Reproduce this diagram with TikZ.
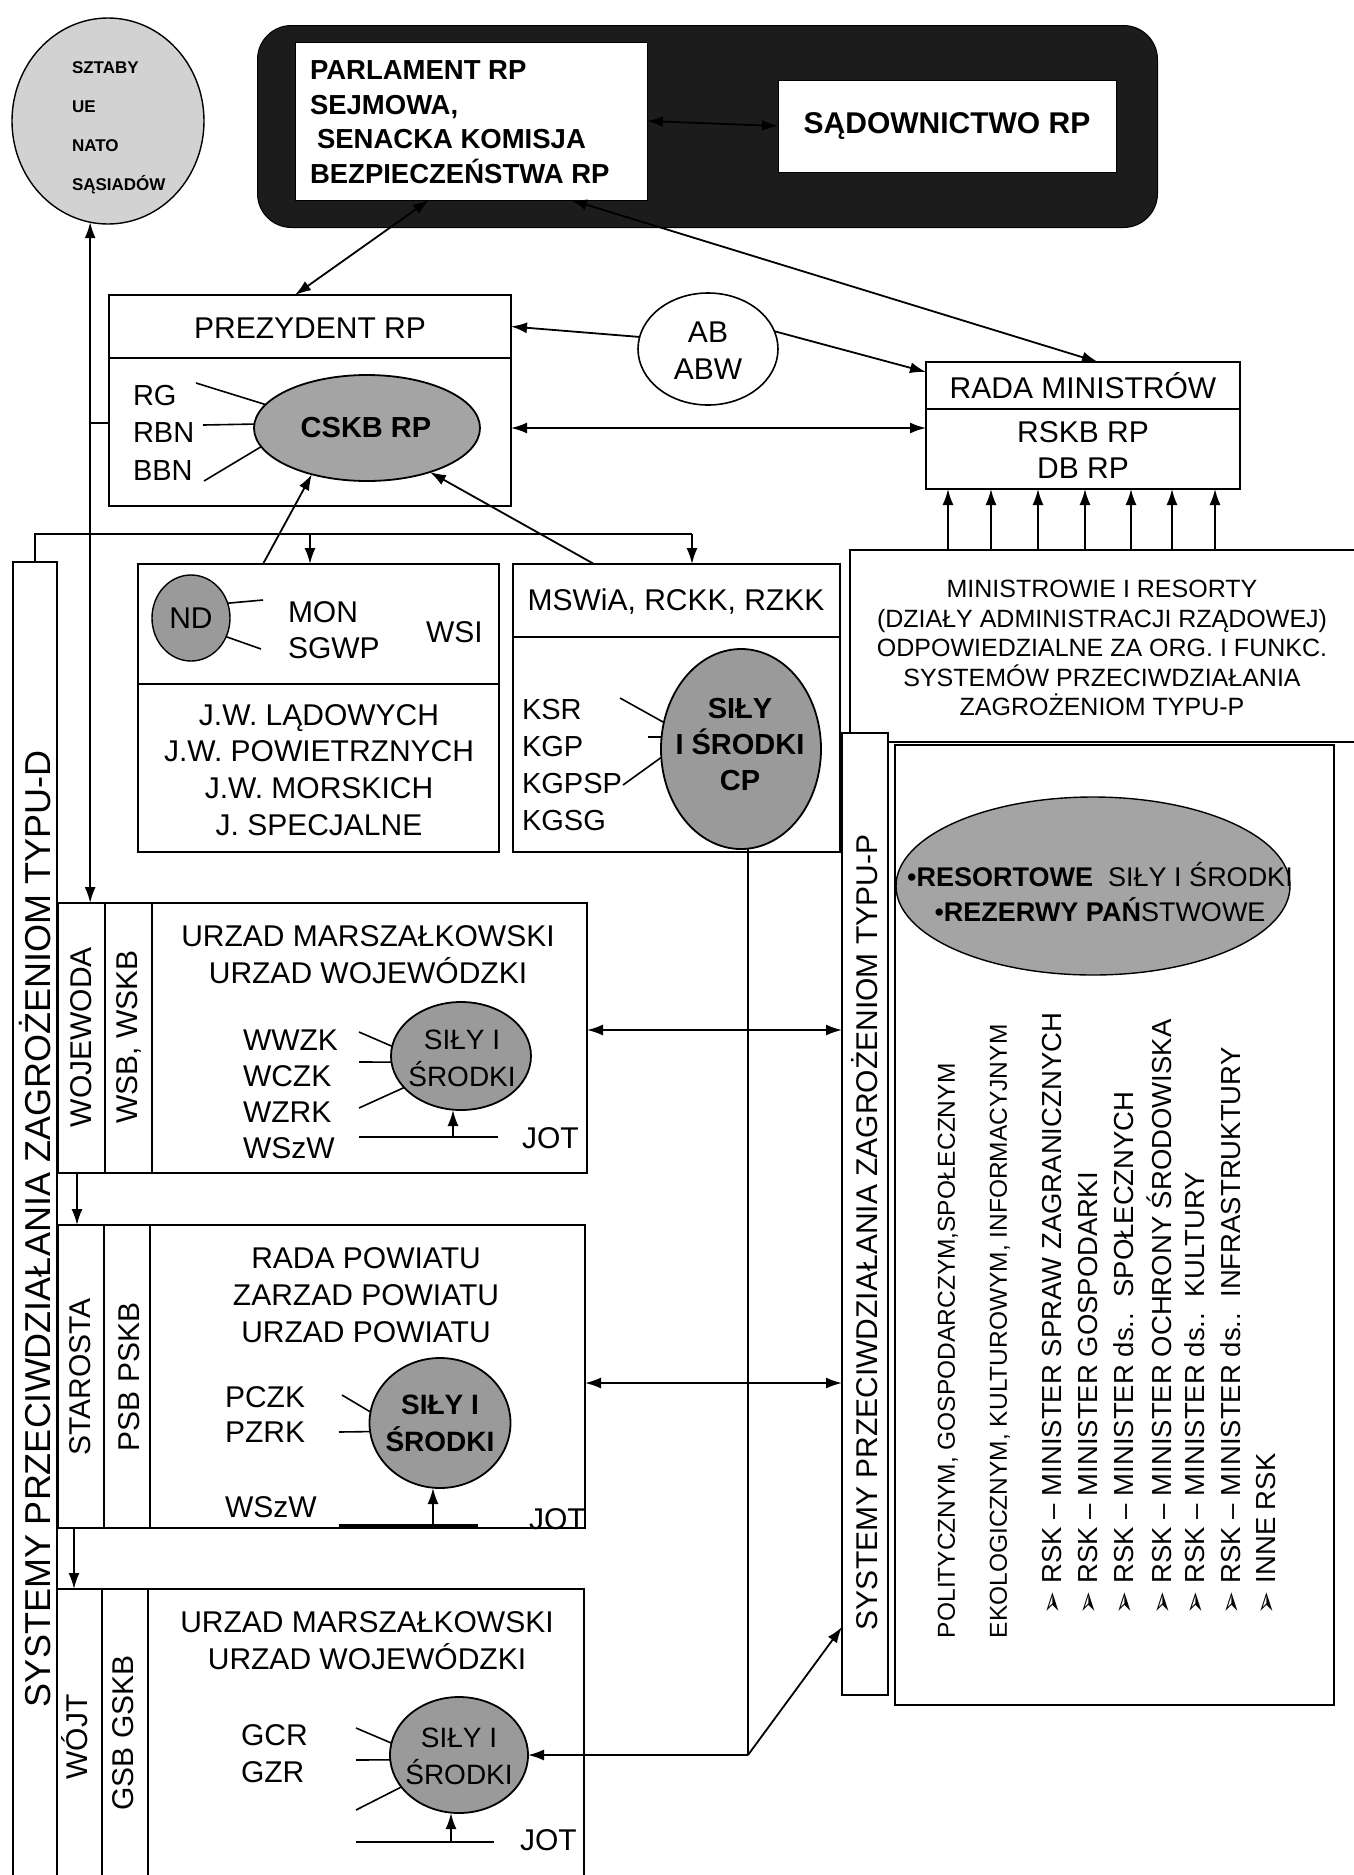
\documentclass[tikz,border=0pt]{standalone}
\usepackage{fontspec}
\setmainfont{Liberation Sans}
\newfontfamily\dejavu{DejaVu Sans}
\usetikzlibrary{shapes.geometric,arrows.meta,calc}
\definecolor{darkfill}{HTML}{1C1C1C}
\definecolor{gA}{HTML}{A4A4A4}
\definecolor{gB}{HTML}{9A9A9A}
\definecolor{gL}{HTML}{D2D2D2}
\begin{document}
\begin{tikzpicture}[x=1pt,y=-1pt]
\tikzset{
  bx/.style={draw, line width=2.2pt, fill=white, inner sep=0pt, outer sep=0pt, anchor=north west},
  ell/.style={ellipse, draw, line width=1.8pt, inner sep=0pt, outer sep=0pt},
  t/.style={inner sep=0pt, outer sep=0pt, align=center},
  arr/.style={line width=1.8pt, -{Latex[length=16pt,width=11pt]}},
  darr/.style={line width=1.8pt, {Latex[length=16pt,width=11pt]}-{Latex[length=16pt,width=11pt]}},
  ln/.style={line width=1.6pt},
  fsA/.style={font=\fontsize{30}{37}\selectfont},
  fsB/.style={font=\fontsize{27.5}{34.5}\selectfont\bfseries},
  fsC/.style={font=\fontsize{30}{36}\selectfont\bfseries},
  fsS/.style={font=\fontsize{17}{39}\selectfont\bfseries},
  fsE/.style={font=\fontsize{29}{36}\selectfont\bfseries},
  fsM/.style={font=\fontsize{25}{29.5}\selectfont},
  fsR/.style={font=\fontsize{27}{35}\selectfont},
  fsVa/.style={font=\fontsize{24.5}{30}\selectfont},
  fsVb/.style={font=\fontsize{27.5}{33}\selectfont},
  fsP/.style={font=\fontsize{30}{36}\selectfont},
  fsD/.style={font=\fontsize{36}{44}\selectfont},
  fsSI/.style={font=\fontsize{28}{37}\selectfont},
}
\useasboundingbox (0,0) rectangle (1353,1875);
\fill[white] (0,0) rectangle (1353,1875);

% ---------------- top ----------------
\node[anchor=north west, minimum width=900pt, minimum height=202pt, rounded corners=34pt,
      fill=darkfill, draw=black, line width=1pt, inner sep=0pt] (sejm) at (257,25) {};
\node[bx, line width=1pt, minimum width=352pt, minimum height=158pt] (parl) at (295,42) {};
\node[bx, line width=1pt, minimum width=338pt, minimum height=92pt] (sad) at (778,80) {};
\node[t, fsB, align=left, anchor=west] (parltxt) at (310,122)
  {PARLAMENT RP\\SEJMOWA,\\\hspace*{7pt}SENACKA KOMISJA\\BEZPIECZEŃSTWA RP};
\node[t, fsC] (sadtxt) at (947,126) {SĄDOWNICTWO RP};

\node[ell, fill=gL, line width=1.4pt, minimum width=192pt, minimum height=206pt] (sztaby) at (108,121) {};
\node[t, fsS, align=left, anchor=west] (sztabytxt) at (72,127.5) {SZTABY\\UE\\NATO\\SĄSIADÓW};

% ---------------- president ----------------
\node[bx, minimum width=402pt, minimum height=63pt] (prezT) at (109,295) {};
\node[bx, minimum width=402pt, minimum height=148pt] (prezB) at (109,358) {};
\node[t, fsA] (preztxt) at (310,328) {PREZYDENT RP};
\node[t, fsA, align=left, anchor=west, font=\fontsize{29}{37.5}\selectfont] (rgtxt) at (133,432.5) {RG\\RBN\\BBN};
\node[ell, fill=gA, minimum width=226pt, minimum height=106pt] (cskb) at (367,428) {};
\node[t, fsE] (cskbtxt) at (366,428) {CSKB RP};
\coordinate (rgA) at (196,383);
\coordinate (rgB) at (203,425);
\coordinate (rgC) at (204,481);
\draw[ln] (rgA) -- (cskb.167);
\draw[ln] (rgB) -- (cskb.178);
\draw[ln] (rgC) -- (cskb.190);

% AB
\node[ell, line width=1.6pt, fill=white, minimum width=140pt, minimum height=112pt] (ab) at (708,349) {};
\node[t, fsA] (abtxt) at (708,351) {AB\\ABW};

% Rada ministrow
\node[bx, minimum width=314pt, minimum height=47pt] (radaT) at (926,362) {};
\node[bx, minimum width=314pt, minimum height=80pt] (radaB) at (926,409) {};
\node[t, fsA] (radatxt) at (1083,386) {RADA MINISTRÓW};
\node[t, fsA, font=\fontsize{30}{36}\selectfont] (rskbtxt) at (1083,450) {RSKB RP\\DB RP};

% Ministrowie
\node[bx, minimum width=512pt, minimum height=192pt] (minbox) at (850,550) {};
\node[t, fsM] (mintxt) at (1102,648) {MINISTROWIE I RESORTY\\(DZIAŁY ADMINISTRACJI RZĄDOWEJ)\\ODPOWIEDZIALNE ZA ORG. I FUNKC.\\SYSTEMÓW PRZECIWDZIAŁANIA\\ZAGROŻENIOM TYPU-P};

% ---------------- ND box ----------------
\node[bx, minimum width=361pt, minimum height=120pt] (ndT) at (138,564) {};
\node[bx, minimum width=361pt, minimum height=168pt] (ndB) at (138,684) {};
\node[ell, fill=gB, line width=1.4pt, minimum width=78pt, minimum height=86pt] (ndell) at (191,618) {};
\node[t, fsA] (ndtxt) at (191,618) {ND};
\node[t, fsA, anchor=west] (montxt) at (288,612) {MON};
\node[t, fsA, anchor=west] (sgwptxt) at (288,648) {SGWP};
\node[t, fsA, anchor=west] (wsitxt) at (426,632) {WSI};
\coordinate (ndA) at (263,600);
\coordinate (ndB2) at (261,649);
\draw[ln] (ndell.22) -- (ndA);
\draw[ln] (ndell.-28) -- (ndB2);
\node[t, fsA, font=\fontsize{30}{36.7}\selectfont] (jwtxt) at (319,770) {J.W. LĄDOWYCH\\J.W. POWIETRZNYCH\\J.W. MORSKICH\\J. SPECJALNE};

% ---------------- MSWiA box ----------------
\node[bx, minimum width=327pt, minimum height=73pt] (mswT) at (513,564) {};
\node[bx, minimum width=327pt, minimum height=215pt] (mswB) at (513,637) {};
\node[t, fsA] (mswtxt) at (676,602) {MSWiA, RCKK, RZKK};
\node[t, align=left, anchor=west, font=\fontsize{29}{36.7}\selectfont] (ksrtxt) at (522,765) {KSR\\KGP\\KGPSP\\KGSG};
\node[ell, fill=gB, minimum width=160pt, minimum height=200pt] (cp) at (741,749) {};
\node[t, fsE] (cptxt) at (740,745) {SIŁY\\I ŚRODKI\\CP};
\coordinate (ksrA) at (620,698);
\coordinate (kgpA) at (648,737);
\coordinate (kgpB) at (662,737);
\coordinate (kgpsA) at (623,785);
\draw[ln] (ksrA) -- (cp.161);
\draw[ln] (kgpA) -- (kgpB);
\draw[ln] (kgpsA) -- (cp.186);

% ---------------- TYPU-D column ----------------
\node[bx, minimum width=44pt, minimum height=1340pt] (colD) at (13,562) {};
\node[t, fsD, rotate=90, anchor=west] (typDtxt) at (35,1707) {SYSTEMY PRZECIWDZIAŁANIA ZAGROŻENIOM TYPU-D};

% ---------------- TYPU-P column & big box ----------------
\node[bx, minimum width=46pt, minimum height=962pt] (colP) at (842,733) {};
\node[bx, minimum width=439pt, minimum height=960pt] (bigbox) at (895,745) {};
\node[t, fsP, rotate=90, anchor=west] (typPtxt) at (865,1630) {SYSTEMY PRZECIWDZIAŁANIA ZAGROŻENIOM TYPU-P};
\node[ell, fill=gA, line width=1.4pt, minimum width=394pt, minimum height=178pt] (resell) at (1093,886) {};
\node[t, fsR] (restxt) at (1100,892) {\textbullet\textbf{RESORTOWE}\ \ SIŁY I ŚRODKI\\\textbullet\textbf{REZERWY PAŃ}STWOWE};
\node[t, fsVa, rotate=90, anchor=west] (v1) at (948,1638) {POLITYCZNYM, GOSPODARCZYM,SPOŁECZNYM};
\node[t, fsVa, rotate=90, anchor=west] (v2) at (1000,1638) {EKOLOGICZNYM, KULTUROWYM, INFORMACYJNYM};
\node[t, fsVb, rotate=90, anchor=west] (r1) at (1052,1614) {{\dejavu ➢}\ RSK – MINISTER SPRAW ZAGRANICZNYCH};
\node[t, fsVb, rotate=90, anchor=west] (r2) at (1088,1614) {{\dejavu ➢}\ RSK – MINISTER GOSPODARKI};
\node[t, fsVb, rotate=90, anchor=west] (r3) at (1124,1614) {{\dejavu ➢}\ RSK – MINISTER ds..\ \ SPOŁECZNYCH};
\node[t, fsVb, rotate=90, anchor=west] (r4) at (1159,1614) {{\dejavu ➢}\ RSK – MINISTER OCHRONY ŚRODOWISKA};
\node[t, fsVb, rotate=90, anchor=west] (r5) at (1195,1614) {{\dejavu ➢}\ RSK – MINISTER ds..\ \ KULTURY};
\node[t, fsVb, rotate=90, anchor=west] (r6) at (1231,1614) {{\dejavu ➢}\ RSK – MINISTER ds..\ \ INFRASTRUKTURY};
\node[t, fsVb, rotate=90, anchor=west] (r7) at (1266,1614) {{\dejavu ➢}\ INNE RSK};

% ---------------- WOJEWODA ----------------
\node[bx, minimum width=47pt, minimum height=270pt] (woj) at (58,903) {};
\node[bx, minimum width=47pt, minimum height=270pt] (wojs) at (105,903) {};
\node[bx, minimum width=435pt, minimum height=270pt] (wojm) at (152,903) {};
\node[t, fsA, rotate=90] (wojtxt) at (81,1037) {WOJEWODA};
\node[t, fsA, rotate=90] (wsbtxt) at (129,1037) {WSB, WSKB};
\node[t, fsA] (urz1) at (368,955) {URZAD MARSZAŁKOWSKI\\URZAD WOJEWÓDZKI};
\node[t, align=left, anchor=west, font=\fontsize{30}{36}\selectfont] (wwzk) at (243,1094) {WWZK\\WCZK\\WZRK\\WSzW};
\node[ell, fill=gB, minimum width=140pt, minimum height=108pt] (wojell) at (461,1056) {};
\node[t, fsSI] (wojelltxt) at (462,1058) {SIŁY I\\ŚRODKI};
\coordinate (wwA) at (359,1032);
\coordinate (wwB) at (359,1062);
\coordinate (wwC) at (359,1108);
\draw[ln] (wwA) -- (wojell.172);
\draw[ln] (wwB) -- (wojell.185);
\draw[ln] (wwC) -- (wojell.209);
\coordinate (jotAl) at (359,1137);
\coordinate (jotAr) at (498,1137);
\coordinate (jotAm) at (453,1137);
\draw[ln] (jotAl) -- (jotAr);
\draw[arr] (jotAm) -- (jotAm |- wojell.south);
\node[t, fsA, anchor=west] (jot1) at (522,1138) {JOT};

% ---------------- STAROSTA ----------------
\node[bx, minimum width=46pt, minimum height=303pt] (sta) at (58,1225) {};
\node[bx, minimum width=46pt, minimum height=303pt] (stas) at (104,1225) {};
\node[bx, minimum width=435pt, minimum height=303pt] (stam) at (150,1225) {};
\node[t, fsA, rotate=90] (statxt) at (80,1377) {STAROSTA};
\node[t, fsA, rotate=90] (psbtxt) at (129,1377) {PSB PSKB};
\node[t, fsA] (rpow) at (366,1295) {RADA POWIATU\\ZARZAD POWIATU\\URZAD POWIATU};
\node[t, align=left, anchor=west, font=\fontsize{30}{35}\selectfont] (pczk) at (225,1414.5) {PCZK\\PZRK};
\node[t, fsA, anchor=west] (wszw2) at (225,1507) {WSzW};
\node[ell, fill=gB, minimum width=141pt, minimum height=130pt] (staell) at (440,1423) {};
\node[t, fsSI, font=\fontsize{28}{37}\selectfont\bfseries] (staelltxt) at (440,1423) {SIŁY I\\ŚRODKI};
\coordinate (pA) at (342,1395);
\coordinate (pB) at (339,1432);
\draw[ln] (pA) -- (staell.171);
\draw[ln] (pB) -- (staell.187);
\coordinate (jotBl) at (339,1526);
\coordinate (jotBr) at (478,1526);
\coordinate (jotBm) at (433,1526);
\draw[line width=4pt] (jotBl) -- (jotBr);
\draw[arr] (jotBm) -- (jotBm |- staell.south);
\node[t, fsA, anchor=west] (jot2) at (529,1519) {JOT};

% ---------------- WOJT ----------------
\node[bx, minimum width=45pt, minimum height=320pt] (wojt) at (57,1589) {};
\node[bx, minimum width=46pt, minimum height=320pt] (wojts) at (102,1589) {};
\node[bx, minimum width=436pt, minimum height=320pt] (wojtm) at (148,1589) {};
\node[t, fsA, rotate=90] (wojttxt) at (75,1737) {WÓJT};
\node[t, fsA, rotate=90] (gsbtxt) at (123,1733) {GSB GSKB};
\node[t, fsA] (urz2) at (367,1641) {URZAD MARSZAŁKOWSKI\\URZAD WOJEWÓDZKI};
\node[t, align=left, anchor=west, font=\fontsize{30}{37}\selectfont] (gcr) at (241,1753.5) {GCR\\GZR};
\node[ell, fill=gB, minimum width=138pt, minimum height=116pt] (wojtell) at (459,1755) {};
\node[t, fsSI] (wojtelltxt) at (459,1756) {SIŁY I\\ŚRODKI};
\coordinate (gA) at (356,1728);
\coordinate (gB) at (356,1760);
\coordinate (gC) at (356,1810);
\draw[ln] (gA) -- (wojtell.170);
\draw[ln] (gB) -- (wojtell.184);
\draw[ln] (gC) -- (wojtell.209);
\coordinate (jotCl) at (356,1842);
\coordinate (jotCr) at (494,1842);
\coordinate (jotCm) at (451,1842);
\draw[ln] (jotCl) -- (jotCr);
\draw[arr] (jotCm) -- (jotCm |- wojtell.south);
\node[t, fsA, anchor=west] (jot3) at (520,1840) {JOT};

% ---------------- connectors ----------------
\draw[darr] (parl.east) -- (sad.west);
\draw[darr] (429,0 |- parl.south) -- (295,0 |- prezT.north);
\draw[darr] (571,0 |- parl.south) -- (1098,0 |- radaT.north);
\draw[arr] (ab.170) -- (prezT.east);
\coordinate (radaIn) at ($(radaT.north west)+(0,10)$);
\draw[arr] (ab.15) -- (radaIn);
\draw[darr] (prezB.east |- 0,428) -- (radaB.west |- 0,428);
\foreach \xx in {948,991,1038,1085,1131,1172,1215}
  \draw[arr] (\xx,0 |- minbox.north) -- (\xx,0 |- radaB.south);

% bus to ND / MSWiA
\coordinate (busL) at (colD.north |- 0,534);
\coordinate (busR) at (692,534);
\draw[ln] (colD.north) -- (busL) -- (busR);
\draw[arr] (310,0 |- busL) -- (310,0 |- ndT.north);
\draw[arr] (busR) -- (busR |- mswT.north);
\draw[arr] (263,0 |- ndT.north) -- (cskb.220);
\draw[arr] (594,0 |- mswT.north) -- (cskb.325);

% left vertical to sztaby and wojewoda
\draw[darr] (sztaby.260) -- (sztaby.260 |- woj.north);
\draw[ln] (sztaby.260 |- 0,423) -- (prezB.west |- 0,423);

% between levels
\draw[arr] (77,0 |- woj.south) -- (77,0 |- sta.north);
\draw[arr] (74,0 |- sta.south) -- (74,0 |- wojt.north);

% to TYPU-P
\draw[darr] (wojm.east |- 0,1030) -- (colP.west |- 0,1030);
\draw[darr] (stam.east |- 0,1383) -- (colP.west |- 0,1383);
\coordinate (cpOut) at (748,0 |- cp.south);
\coordinate (junc) at (cpOut |- wojtell.east);
\draw[ln] (cpOut) -- (junc);
\draw[arr] (junc) -- (wojtell.east);
\draw[arr] (junc) -- (colP.west |- 0,1627);
\end{tikzpicture}
\end{document}
